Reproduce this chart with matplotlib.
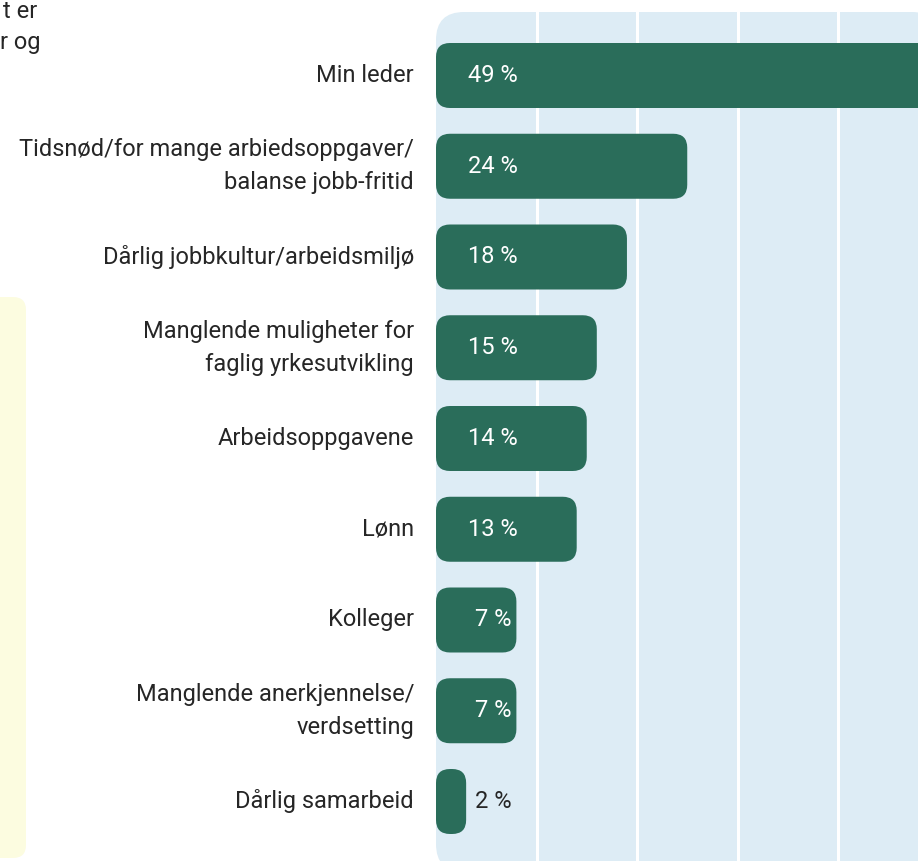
import matplotlib
matplotlib.use("Agg")
import matplotlib.pyplot as plt
from matplotlib.patches import FancyBboxPatch

plt.rcParams['font.family'] = ['Roboto', 'DejaVu Sans']

categories = [
    "Min leder",
    "Tidsnød/for mange arbiedsoppgaver/\nbalanse jobb-fritid",
    "Dårlig jobbkultur/arbeidsmiljø",
    "Manglende muligheter for\nfaglig yrkesutvikling",
    "Arbeidsoppgavene",
    "Lønn",
    "Kolleger",
    "Manglende anerkjennelse/\nverdsetting",
    "Dårlig samarbeid",
]
values = [49, 24, 18, 15, 14, 13, 7, 7, 2]
value_labels = [f"{v} %" for v in values]
grid_ticks = [10, 20, 30, 40]

BAR_COLOR = "#2a6d5a"
BG_COLOR = "#ddecf5"
TEXT_COLOR = "#262626"
NOTE_BG = "#fcfce0"
FS = 17

W, H = 918, 861
fig = plt.figure(figsize=(W / 100, H / 100), dpi=100)

# plot area in pixels (goes a bit past the right and bottom edges)
left, right, top, bottom = 436, 940, 12, 872
ax = fig.add_axes([left / W, 1 - bottom / H, (right - left) / W, (bottom - top) / H])

px_per_unit = 10.05      # pixels per percent
row_px = 90.75           # pixels per row
first_row = 75.5         # y of first row centre
xmax = (right - left) / px_per_unit
ax.set_xlim(0, xmax)
ax.set_ylim((bottom - first_row) / row_px, -(first_row - top) / row_px)
ax.axis("off")

aspect = px_per_unit / row_px

# rounded light blue panel
y0, y1 = ax.get_ylim()[1], ax.get_ylim()[0]
bg_r = 28 / px_per_unit
ax.add_patch(FancyBboxPatch((0, y0), xmax, y1 - y0,
                            boxstyle=f"round,pad=0,rounding_size={bg_r}",
                            mutation_aspect=aspect, fc=BG_COLOR, ec="none",
                            zorder=0))

for g in grid_ticks:
    ax.axvline(g, color="white", lw=2.2, zorder=1)

bar_h = 65 / row_px
bar_r = 14 / px_per_unit
overhang = 1.0
for i, (cat, v, lab) in enumerate(zip(categories, values, value_labels)):
    ax.add_patch(FancyBboxPatch((0, i - bar_h / 2), v + overhang, bar_h,
                                boxstyle=f"round,pad=0,rounding_size={bar_r}",
                                mutation_aspect=aspect, fc=BAR_COLOR,
                                ec="none", zorder=2))
    ax.text(-22 / px_per_unit, i, cat, ha="right", va="center",
            fontsize=FS, color=TEXT_COLOR, linespacing=1.55, clip_on=False)
    inside = v > 5
    ax.text(57 / px_per_unit, i, lab, ha="center", va="center",
            fontsize=FS, color="white" if inside else TEXT_COLOR, zorder=3)

# pale yellow side box and cut-off intro text on the left
fig.patches.append(FancyBboxPatch((-0.3, (H - 858) / 100), 0.56, (858 - 297) / 100,
                                  boxstyle="round,pad=0,rounding_size=0.13",
                                  fc=NOTE_BG, ec="none",
                                  transform=fig.dpi_scale_trans, figure=fig))
fig.text(37 / W, 1 - 18 / H, "t er", ha="right", va="baseline",
         fontsize=FS, color=TEXT_COLOR)
fig.text(40 / W, 1 - 49 / H, "r og", ha="right", va="baseline",
         fontsize=FS, color=TEXT_COLOR)

fig.savefig("out.png", dpi=100)
